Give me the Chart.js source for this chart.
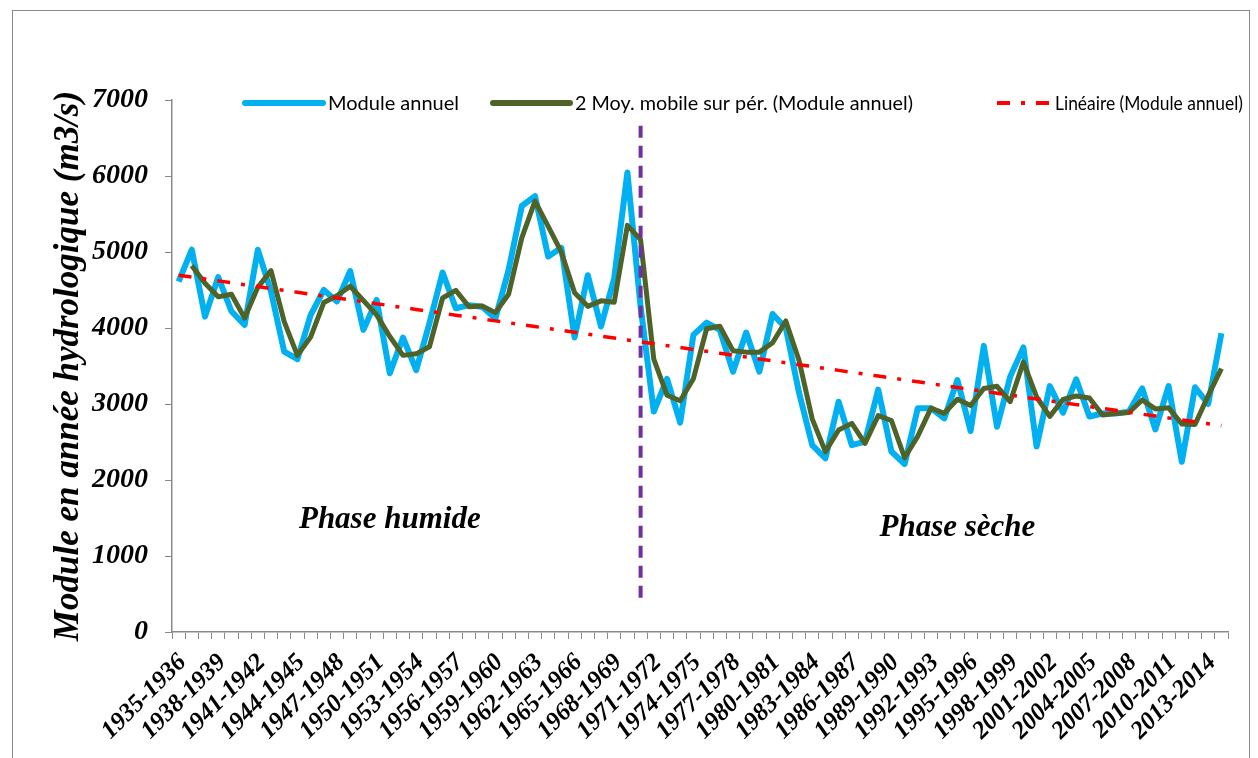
<!DOCTYPE html>
<html>
<head>
<meta charset="utf-8">
<title>Module annuel</title>
<script src="https://cdn.jsdelivr.net/npm/chart.js@4.4.1/dist/chart.umd.min.js"></script>
<style>
  html, body { margin: 0; padding: 0; background: #fff; }
  #wrap { position: relative; width: 1258px; height: 758px; }
</style>
</head>
<body>
<div id="wrap"><canvas id="moduleChart" width="1258" height="758"></canvas></div>
<script>
// hydrological years
const years = [
  '1935-1936','1936-1937','1937-1938','1938-1939','1939-1940','1940-1941','1941-1942','1942-1943',
  '1943-1944','1944-1945','1945-1946','1946-1947','1947-1948','1948-1949','1949-1950','1950-1951',
  '1951-1952','1952-1953','1953-1954','1954-1955','1955-1956','1956-1957','1957-1958','1958-1959',
  '1959-1960','1960-1961','1961-1962','1962-1963','1963-1964','1964-1965','1965-1966','1966-1967',
  '1967-1968','1968-1969','1969-1970','1970-1971','1971-1972','1972-1973','1973-1974','1974-1975',
  '1975-1976','1976-1977','1977-1978','1978-1979','1979-1980','1980-1981','1981-1982','1982-1983',
  '1983-1984','1984-1985','1985-1986','1986-1987','1987-1988','1988-1989','1989-1990','1990-1991',
  '1991-1992','1992-1993','1993-1994','1994-1995','1995-1996','1996-1997','1997-1998','1998-1999',
  '1999-2000','2000-2001','2001-2002','2002-2003','2003-2004','2004-2005','2005-2006','2006-2007',
  '2007-2008','2008-2009','2009-2010','2010-2011','2011-2012','2012-2013','2013-2014','2014-2015'
];

// annual mean discharge (m3/s)
const moduleAnnuel = [
  4610, 5030, 4150, 4670, 4220, 4040, 5030, 4480, 3690, 3590,
  4170, 4500, 4350, 4750, 3975, 4370, 3405, 3875, 3445, 4060,
  4730, 4260, 4300, 4280, 4125, 4765, 5605, 5735, 4940, 5055,
  3875, 4695, 4020, 4655, 6045, 4280, 2900, 3330, 2755, 3910,
  4070, 3975, 3425, 3940, 3425, 4185, 4000, 3150, 2460, 2285,
  3030, 2460, 2505, 3190, 2375, 2210, 2945, 2945, 2810, 3315,
  2645, 3765, 2700, 3360, 3745, 2440, 3235, 2885, 3325, 2835,
  2875, 2875, 2900, 3205, 2665, 3235, 2240, 3220, 3000, 3930
];

const yTicks = [0, 1000, 2000, 3000, 4000, 5000, 6000, 7000];

// rupture between the wet and dry phases
const ruptureYear = '1970-1971';
const ruptureSpan = [450, 6760];

const phaseNames = ['Phase humide', 'Phase sèche'];
const phaseAt = [['1951-1952', 1480], ['1994-1995', 1370]];

// 2-period moving average
const moyMobile = moduleAnnuel.map((v, i) => i === 0 ? null : (moduleAnnuel[i - 1] + v) / 2);

// least squares trend
const n = moduleAnnuel.length;
const mx = (n - 1) / 2;
const my = moduleAnnuel.reduce((a, b) => a + b, 0) / n;
let sxy = 0, sxx = 0;
moduleAnnuel.forEach((v, i) => { sxy += (i - mx) * (v - my); sxx += (i - mx) * (i - mx); });
const slope = sxy / sxx;
const lineaire = moduleAnnuel.map((v, i) => my + slope * (i - mx));

const serif = '"Liberation Serif", "Times New Roman", serif';
const BLUE = '#00B0F0', GREEN = '#4F6228', RED = '#FF0000', PURPLE = '#7030A0', AXIS = '#898989';

const frame = {
  id: 'frame',
  beforeDraw(chart) {
    const ctx = chart.ctx;
    ctx.save();
    ctx.fillStyle = '#fff';
    ctx.fillRect(0, 0, chart.width, chart.height);
    ctx.strokeStyle = AXIS;
    ctx.lineWidth = 1;
    ctx.strokeRect(12.5, 10.5, 1237, 800);
    ctx.restore();
  }
};

const legendItems = [
  { text: 'Module annuel', color: BLUE, width: 6, dash: [], x0: 245, x1: 323, w: 131 },
  { text: '2 Moy. mobile sur pér. (Module annuel)', color: GREEN, width: 6, dash: [], x0: 493, x1: 570, w: 338 },
  { text: 'Linéaire (Module annuel)', color: RED, width: 4, dash: [13, 11, 4, 11], x0: 997, x1: 1050, w: 188 }
];

const legendBox = {
  id: 'legendBox',
  afterDraw(chart) {
    const ctx = chart.ctx;
    const y = 103;
    ctx.save();
    ctx.font = '20px Lato, "Noto Sans", sans-serif';
    ctx.textBaseline = 'middle';
    ctx.fillStyle = '#000';
    legendItems.forEach(it => {
      ctx.beginPath();
      ctx.strokeStyle = it.color;
      ctx.lineWidth = it.width;
      ctx.setLineDash(it.dash);
      ctx.lineCap = it.dash.length ? 'butt' : 'round';
      ctx.moveTo(it.x0, y);
      ctx.lineTo(it.x1, y);
      ctx.stroke();
      ctx.setLineDash([]);
      ctx.fillText(it.text, it.x1 + 5, y + 1, it.w);
    });
    ctx.restore();
  }
};

const phaseLabels = {
  id: 'phaseLabels',
  afterDatasetsDraw(chart) {
    const { ctx, scales: { x, y } } = chart;
    ctx.save();
    ctx.font = 'italic bold 31px ' + serif;
    ctx.fillStyle = '#000';
    ctx.textAlign = 'center';
    ctx.textBaseline = 'middle';
    phaseNames.forEach((name, i) => {
      const [yr, val] = phaseAt[i];
      ctx.fillText(name, x.getPixelForValue(years.indexOf(yr)), y.getPixelForValue(val));
    });
    ctx.restore();
  }
};

new Chart(document.getElementById('moduleChart'), {
  type: 'line',
  data: {
    labels: years,
    datasets: [
      {
        label: 'Rupture',
        data: ruptureSpan.map(v => ({ x: ruptureYear, y: v })),
        borderColor: PURPLE,
        borderWidth: 4,
        borderDash: [12, 8],
        pointRadius: 0,
        order: 0
      },
      {
        label: 'Linéaire (Module annuel)',
        data: lineaire,
        borderColor: RED,
        borderWidth: 3.5,
        borderDash: [13, 11, 4, 11],
        pointRadius: 0,
        order: 1
      },
      {
        label: '2 Moy. mobile sur pér. (Module annuel)',
        data: moyMobile,
        borderColor: GREEN,
        borderWidth: 5,
        borderJoinStyle: 'round',
        pointRadius: 0,
        order: 2
      },
      {
        label: 'Module annuel',
        data: moduleAnnuel,
        borderColor: BLUE,
        borderWidth: 6,
        borderJoinStyle: 'round',
        pointRadius: 0,
        order: 3
      }
    ]
  },
  options: {
    responsive: false,
    animation: false,
    layout: { padding: { top: 100, right: 30, left: 0, bottom: 0 } },
    plugins: {
      legend: { display: false },
      tooltip: { enabled: false }
    },
    scales: {
      x: {
        offset: true,
        grid: { offset: true, drawOnChartArea: false, tickLength: 7, tickColor: AXIS, color: AXIS },
        border: { color: AXIS, width: 1.5 },
        ticks: {
          autoSkip: false,
          minRotation: 45,
          maxRotation: 45,
          padding: 9,
          labelOffset: 4,
          color: '#000',
          font: { family: serif, size: 25, weight: 'bold', style: 'italic' },
          callback(v, i) { return i % 3 === 0 ? years[i] : ''; }
        },
        afterFit(scale) { scale.height = 126; }
      },
      y: {
        min: 0,
        max: 7000,
        afterBuildTicks(scale) { scale.ticks = yTicks.map(v => ({ value: v })); },
        grid: { drawOnChartArea: false, tickLength: 7, tickColor: AXIS, color: AXIS },
        border: { color: AXIS, width: 1.5 },
        ticks: {
          padding: 17,
          color: '#000',
          font: { family: serif, size: 28, weight: 'bold', style: 'italic' },
          callback: v => String(v)
        },
        title: {
          display: true,
          text: 'Module en année hydrologique (m3/s)',
          color: '#000',
          font: { family: serif, size: 35, weight: 'bold', style: 'italic' },
          padding: { top: 48, bottom: 0 }
        },
        afterFit(scale) { scale.width = 172; }
      }
    }
  },
  plugins: [frame, legendBox, phaseLabels]
});
</script>
</body>
</html>
